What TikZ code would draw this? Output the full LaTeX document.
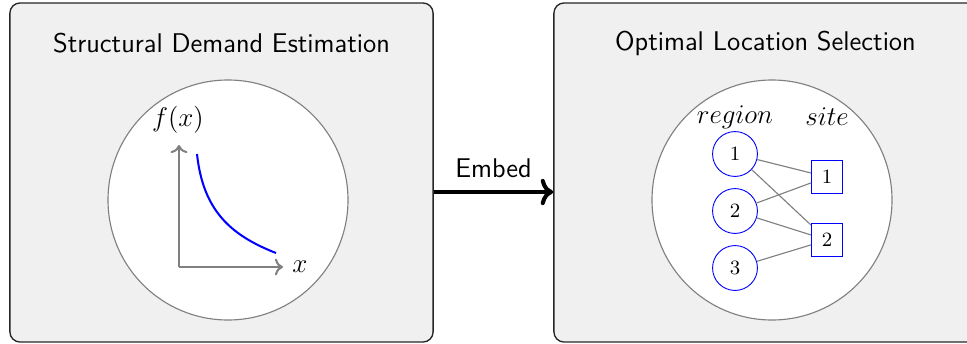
\documentclass[tikz,border=0pt]{standalone}
\usetikzlibrary{arrows.meta}
\begin{document}
\begin{tikzpicture}[x=0.0156cm,y=-0.0156cm,
    panel/.style={rectangle,draw=black!85,fill=black!6,rounded corners=4.5pt,line width=0.6pt,minimum width=6.599cm,minimum height=5.288cm},
    lens/.style={draw=gray,fill=white,line width=0.5pt},
    regionnode/.style={circle,draw=blue,minimum size=0.70cm,inner sep=0pt,font=\small},
    sitenode/.style={rectangle,draw=blue,minimum width=0.484cm,minimum height=0.515cm,inner sep=0pt,font=\small},
    link/.style={draw=gray,line width=0.5pt},
    axislab/.style={font=\fontsize{12.8}{15}\selectfont}]
    \useasboundingbox (0,0) rectangle (967,343);
    %% panels
    \node[panel] (demand) at (221.5,172.5) {};
    \node[panel] (select) at (765.5,172.5) {};
    \node[font=\sffamily\large] (demtitle) at (221.5,43) {Structural Demand Estimation};
    \node[font=\sffamily\large] (seltitle) at (765.5,43) {Optimal Location Selection};
    %% embed arrow
    \coordinate (embedy) at (0,192);
    \draw[line width=1.8pt,->] (demand.east |- embedy) -- node[above=2pt,font=\sffamily\large] (embed) {Embed} (select.west |- embedy);
    %% demand curve
    \draw[lens] (228,200) circle[radius=120];
    \draw[gray,line width=0.9pt,->] (179,267) -- (179,145);
    \draw[gray,line width=0.9pt,->] (179,267) -- (283,267);
    \node[axislab] (fx) at (178,120) {$f(x)$};
    \node[axislab] (xlab) at (300,267) {$x$};
    \draw[blue,line width=0.9pt] (197,154) .. controls (203,210) and (230,235) .. (276,253);
    %% location graph
    \draw[lens] (772,200) circle[radius=120];
    \node (reglab) at (735,117) {\large $region$};
    \node (sitelab) at (827,117) {\large $site$};
    \node[regionnode] (r1) at (735,154) {1};
    \node[regionnode] (r2) at (735,211) {2};
    \node[regionnode] (r3) at (735,268) {3};
    \node[sitenode] (s1) at (827,177) {1};
    \node[sitenode] (s2) at (827,240) {2};
    \draw[link] (r1) -- (s1);
    \draw[link] (r1) -- (s2);
    \draw[link] (r2) -- (s1);
    \draw[link] (r2) -- (s2);
    \draw[link] (r3) -- (s2);
\end{tikzpicture}
\end{document}
